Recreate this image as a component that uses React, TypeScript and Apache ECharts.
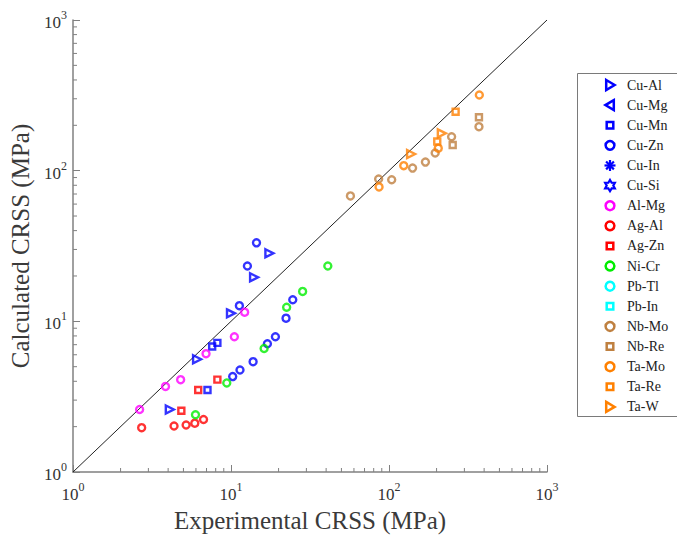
import React, { useEffect, useRef } from "react";
import * as echarts from "echarts";

const SERIF = "'Liberation Serif', 'Times New Roman', serif";

// ---- data (Experimental CRSS x, Calculated CRSS y, MPa) ----
const cuAlX = [17.5, 14.0, 10.0, 6.1, 4.1];
const cuAlY = [28.3, 19.6, 11.3, 5.6, 2.6];
const cuMgX: number[] = [];
const cuMgY: number[] = [];
const cuMnX = [7.6, 8.2, 7.1];
const cuMnY = [6.8, 7.2, 3.5];
const cuZnX = [14.5, 12.7, 11.3, 24.6, 22.3, 19.1, 17.0, 13.8, 11.4, 10.25];
const cuZnY = [33.2, 23.3, 12.7, 13.9, 10.5, 7.9, 7.1, 5.4, 4.75, 4.3];
const cuInX: number[] = [];
const cuInY: number[] = [];
const cuSiX: number[] = [];
const cuSiY: number[] = [];
const alMgX = [12.2, 10.5, 6.95, 4.8, 3.85, 2.64];
const alMgY = [11.5, 7.9, 6.1, 4.1, 3.7, 2.6];
const agAlX = [2.72, 4.36, 5.2, 5.9, 6.7];
const agAlY = [1.97, 2.02, 2.05, 2.11, 2.23];
const agZnX = [4.85, 6.2, 8.2];
const agZnY = [2.55, 3.5, 4.1];
const niCrX = [5.96, 9.4, 16.2, 22.5, 28.4, 41];
const niCrY = [2.4, 3.9, 6.6, 12.4, 15.8, 23.3];
const pbTlX: number[] = [];
const pbTlY: number[] = [];
const pbInX: number[] = [];
const pbInY: number[] = [];
const nbMoX = [57, 86, 104, 141, 170, 196, 249, 371];
const nbMoY = [68, 88, 87, 104, 114, 131, 168, 196];
const nbReX = [253, 371];
const nbReY = [148, 226];
const taMoX = [373, 205, 124, 86.5];
const taMoY = [318, 141, 108, 78];
const taReX = [264, 202];
const taReY = [246, 156];
const taWX = [216, 138];
const taWY = [177, 129];

const identityLine = [1, 1000];
const minorTicks = [2, 3, 4, 5, 6, 7, 8, 9, 20, 30, 40, 50, 60, 70, 80, 90, 200, 300, 400, 500, 600, 700, 800, 900];

const BLUE = "#0000ff";
const MAGENTA = "#ff00ff";
const RED = "#ff0000";
const GREEN = "#00ee00";
const CYAN = "#00ffff";
const BROWN = "#bf8040";
const ORANGE = "#ff8000";
const AXIS = "#808080";

const HEXAGRAM =
  "path://M10,0L12.89,5L18.66,5L15.77,10L18.66,15L12.89,15L10,20L7.11,15L1.34,15L4.23,10L1.34,5L7.11,5Z";
const ASTERISK =
  "path://M10,0L10,20M0,10L20,10M2.93,2.93L17.07,17.07M2.93,17.07L17.07,2.93";
const TRI_RIGHT = "path://M0,0L8.5,5L0,10Z";
const TRI_LEFT = "path://M8.5,0L0,5L8.5,10Z";

type Kind = "triR" | "triL" | "rect" | "circle" | "star" | "hex";
type Def = {
  name: string;
  xs: number[];
  ys: number[];
  color: string;
  kind: Kind;
};

const defs: Def[] = [
  { name: "Cu-Al", xs: cuAlX, ys: cuAlY, color: BLUE, kind: "triR" },
  { name: "Cu-Mg", xs: cuMgX, ys: cuMgY, color: BLUE, kind: "triL" },
  { name: "Cu-Mn", xs: cuMnX, ys: cuMnY, color: BLUE, kind: "rect" },
  { name: "Cu-Zn", xs: cuZnX, ys: cuZnY, color: BLUE, kind: "circle" },
  { name: "Cu-In", xs: cuInX, ys: cuInY, color: BLUE, kind: "star" },
  { name: "Cu-Si", xs: cuSiX, ys: cuSiY, color: BLUE, kind: "hex" },
  { name: "Al-Mg", xs: alMgX, ys: alMgY, color: MAGENTA, kind: "circle" },
  { name: "Ag-Al", xs: agAlX, ys: agAlY, color: RED, kind: "circle" },
  { name: "Ag-Zn", xs: agZnX, ys: agZnY, color: RED, kind: "rect" },
  { name: "Ni-Cr", xs: niCrX, ys: niCrY, color: GREEN, kind: "circle" },
  { name: "Pb-Tl", xs: pbTlX, ys: pbTlY, color: CYAN, kind: "circle" },
  { name: "Pb-In", xs: pbInX, ys: pbInY, color: CYAN, kind: "rect" },
  { name: "Nb-Mo", xs: nbMoX, ys: nbMoY, color: BROWN, kind: "circle" },
  { name: "Nb-Re", xs: nbReX, ys: nbReY, color: BROWN, kind: "rect" },
  { name: "Ta-Mo", xs: taMoX, ys: taMoY, color: ORANGE, kind: "circle" },
  { name: "Ta-Re", xs: taReX, ys: taReY, color: ORANGE, kind: "rect" },
  { name: "Ta-W", xs: taWX, ys: taWY, color: ORANGE, kind: "triR" },
];

const symbolOf: Record<Kind, string> = {
  triR: TRI_RIGHT,
  triL: TRI_LEFT,
  rect: "rect",
  circle: "circle",
  star: ASTERISK,
  hex: HEXAGRAM,
};
const sizeOf: Record<Kind, number> = { triR: 8, triL: 8, rect: 6, circle: 7, star: 8, hex: 8 };

const labelFormatter = (v: number) => `{b|10}{s|${Math.round(Math.log10(v))}}`;
const labelRich = {
  b: { fontFamily: SERIF, fontSize: 17, color: "#333", lineHeight: 22, verticalAlign: "bottom" },
  s: { fontFamily: SERIF, fontSize: 12, color: "#333", lineHeight: 12, verticalAlign: "top" },
};

// legend layout (pixels)
const LEG_X = 577.5;
const LEG_Y = 73.5;
const LEG_H = 343;
const LEG_ICON_X = 610;
const LEG_TEXT_X = 627;
const LEG_FIRST = 85;
const LEG_STEP = 20.12;

function legendIcons(kind: Kind, color: string, cy: number): any[] {
  const cx = LEG_ICON_X;
  const st = { fill: "none", stroke: color, lineWidth: 2.5 };
  switch (kind) {
    case "circle":
      return [{ type: "circle", shape: { cx, cy, r: 4.4 }, style: st }];
    case "rect":
      return [{ type: "rect", shape: { x: cx - 3.3, y: cy - 3.3, width: 6.6, height: 6.6 }, style: st }];
    case "triR":
      return [{ type: "polygon", shape: { points: [[cx - 3.8, cy - 5], [cx + 4.6, cy], [cx - 3.8, cy + 5]] }, style: st }];
    case "triL":
      return [{ type: "polygon", shape: { points: [[cx + 3.8, cy - 5], [cx - 4.6, cy], [cx + 3.8, cy + 5]] }, style: st }];
    case "hex": {
      const pts: number[][] = [];
      for (let k = 0; k < 12; k++) {
        const a = (-90 + k * 30) * (Math.PI / 180);
        const r = k % 2 === 0 ? 5.6 : 3.3;
        pts.push([cx + r * Math.cos(a), cy + r * Math.sin(a)]);
      }
      return [{ type: "polygon", shape: { points: pts }, style: { fill: "#fff", stroke: color, lineWidth: 2.2 } }];
    }
    case "star": {
      const out: any[] = [];
      for (let k = 0; k < 4; k++) {
        const a = k * 45 * (Math.PI / 180);
        const dx = 5.5 * Math.cos(a);
        const dy = 5.5 * Math.sin(a);
        out.push({
          type: "polyline",
          shape: { points: [[cx - dx, cy - dy], [cx + dx, cy + dy]] },
          style: { fill: "none", stroke: color, lineWidth: 2.2 },
        });
      }
      return out;
    }
  }
  return [];
}

export default function App() {
  const ref = useRef<HTMLDivElement>(null);
  useEffect(() => {
    if (!ref.current) return;
    const chart = echarts.init(ref.current, undefined, { renderer: "svg" });
    const axisCommon = {
      type: "log",
      logBase: 10,
      min: 1,
      max: 1000,
      splitNumber: 3,
      splitLine: { show: false },
      axisLine: { lineStyle: { color: AXIS, width: 1.5 } },
      axisTick: { inside: true, length: 7, lineStyle: { color: AXIS, width: 1 } },
      nameTextStyle: { fontFamily: SERIF, fontSize: 25, color: "#3a3a3a" },
      nameLocation: "middle",
    };
    const scatterSeries = defs.map((d) => ({
      type: "scatter",
      name: d.name,
      symbol: symbolOf[d.kind],
      symbolSize: sizeOf[d.kind],
      data: d.xs.map((x, i) => [x, d.ys[i]]),
      itemStyle: { color: "rgba(255,255,255,0)", borderColor: d.color, borderWidth: 2.4 },
      emphasis: { disabled: true },
      z: 3,
    }));
    const legendElems: any[] = [
      {
        type: "rect",
        shape: { x: LEG_X, y: LEG_Y, width: 140, height: LEG_H },
        style: { fill: "#fff", stroke: "#7a7a7a", lineWidth: 1 },
        z: 10,
      },
    ];
    defs.forEach((d, i) => {
      const cy = LEG_FIRST + i * LEG_STEP;
      legendIcons(d.kind, d.color, cy).forEach((el) => {
        el.z = 11;
        legendElems.push(el);
      });
      legendElems.push({
        type: "text",
        z: 11,
        x: LEG_TEXT_X,
        y: cy,
        style: {
          text: d.name,
          font: "14px 'Liberation Serif', serif",
          fill: "#222",
          verticalAlign: "middle",
          align: "left",
        },
      });
    });
    chart.setOption({
      animation: false,
      backgroundColor: "#ffffff",
      grid: { left: 73, top: 20, width: 474, height: 452 },
      xAxis: {
        ...axisCommon,
        name: "Experimental CRSS (MPa)",
        nameGap: 36,
        axisLabel: { margin: 9, formatter: labelFormatter, rich: labelRich },
      },
      yAxis: {
        ...axisCommon,
        name: "Calculated CRSS (MPa)",
        nameGap: 36,
        axisLabel: { margin: 6, formatter: labelFormatter, rich: labelRich },
      },
      graphic: legendElems,
      series: [
        {
          type: "line",
          name: "y=x",
          data: [
            [identityLine[0], identityLine[0]],
            [identityLine[1], identityLine[1]],
          ],
          symbol: "none",
          silent: true,
          lineStyle: { color: "#222", width: 1 },
          z: 2,
        },
        {
          type: "custom",
          name: "minor",
          silent: true,
          clip: false,
          data: minorTicks.map((v) => [v, v]),
          renderItem: (_p: any, api: any) => {
            const v = api.value(0);
            const px = api.coord([v, 1]);
            const py = api.coord([1, v]);
            return {
              type: "group",
              children: [
                {
                  type: "line",
                  shape: { x1: px[0], y1: px[1], x2: px[0], y2: px[1] - 4 },
                  style: { stroke: AXIS, lineWidth: 1 },
                },
                {
                  type: "line",
                  shape: { x1: py[0], y1: py[1], x2: py[0] + 4, y2: py[1] },
                  style: { stroke: AXIS, lineWidth: 1 },
                },
              ],
            };
          },
          z: 1,
        },
        ...scatterSeries,
      ],
    });
    return () => chart.dispose();
  }, []);
  return (
    <div
      ref={ref}
      style={{ position: "fixed", left: 0, top: 0, width: 677, height: 538, background: "#fff" }}
    />
  );
}
